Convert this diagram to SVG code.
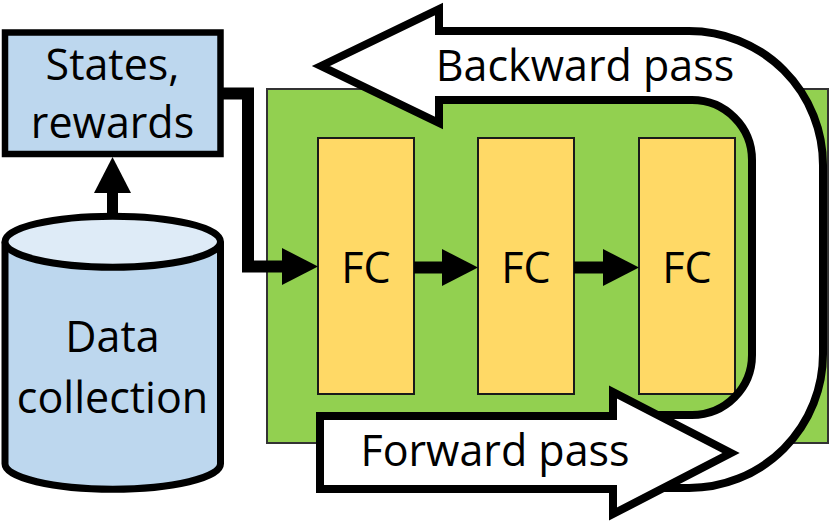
<svg xmlns="http://www.w3.org/2000/svg" width="830" height="521" viewBox="0 0 830 521">
<defs>
<style>
.lbl{font-family:"Open Sans","Noto Sans",sans-serif;font-size:43px;fill:#000;text-anchor:middle}
.fc{fill:#FFD966;stroke:#1a1a1a;stroke-width:2}
.conn{fill:none;stroke:#000;stroke-width:12;stroke-linejoin:miter}
.big{fill:#fff;stroke:#000;stroke-width:8;stroke-linejoin:miter;stroke-miterlimit:6}
</style>
<marker id="ah" viewBox="0 0 36 37" refX="0" refY="18.5" markerWidth="36" markerHeight="37" markerUnits="userSpaceOnUse" orient="auto">
<path d="M0,0 L36,18.5 L0,37 Z" fill="#000"/>
</marker>
</defs>
<rect width="830" height="521" fill="#fff"/>
<g id="network">
<rect x="267" y="89" width="561" height="354" fill="#92D050" stroke="#333" stroke-width="2"/>
</g>
<g id="fc1"><rect class="fc" x="318" y="138" width="96" height="256"/><text class="lbl" x="366" y="283">FC</text></g>
<g id="fc2"><rect class="fc" x="478" y="138" width="96" height="256"/><text class="lbl" x="526" y="283">FC</text></g>
<g id="fc3"><rect class="fc" x="639" y="138" width="96" height="256"/><text class="lbl" x="687" y="283">FC</text></g>
<g id="states">
<rect x="5" y="32.5" width="215.5" height="121.5" fill="#BDD7EE" stroke="#000" stroke-width="6.5"/>
<text class="lbl" x="112.5" y="80">States,</text>
<text class="lbl" x="112.5" y="138">rewards</text>
</g>
<g id="data">
<path d="M5,241.7 L5,463.7 A107.75,25.5 0 0 0 220.5,463.7 L220.5,241.7" fill="#BDD7EE" stroke="#000" stroke-width="7"/>
<ellipse cx="112.75" cy="241.7" rx="107.75" ry="25.5" fill="#DEEBF7" stroke="#000" stroke-width="7"/>
<text class="lbl" x="112.5" y="352">Data</text>
<text class="lbl" x="112.5" y="413">collection</text>
</g>
<g id="connectors">
<path class="conn" style="stroke-width:11" d="M112.5,216 L112.5,193" marker-end="url(#ah)"/>
<path class="conn" d="M223,93.5 L248,93.5 L248,266.5 L282,266.5" marker-end="url(#ah)"/>
<path class="conn" d="M414,267.5 L442,267.5" marker-end="url(#ah)"/>
<path class="conn" d="M574,267.5 L603,267.5" marker-end="url(#ah)"/>
</g>
<g id="backward">
<path class="big" d="M321,66 L439,9 L439,31 L689,31 A134,134 0 0 1 823,165 L823,354 A134,134 0 0 1 689,488 L640,488 L640,415 L692,415 A60,60 0 0 0 752,355 L752,160 A60,60 0 0 0 692,100 L439,100 L439,123 Z"/>
<text class="lbl" x="585" y="81">Backward pass</text>
</g>
<g id="forward">
<path class="big" d="M320,416 L613,416 L613,392 L731,453 L613,514 L613,489 L320,489 Z"/>
<text class="lbl" x="495" y="466">Forward pass</text>
</g>
</svg>
